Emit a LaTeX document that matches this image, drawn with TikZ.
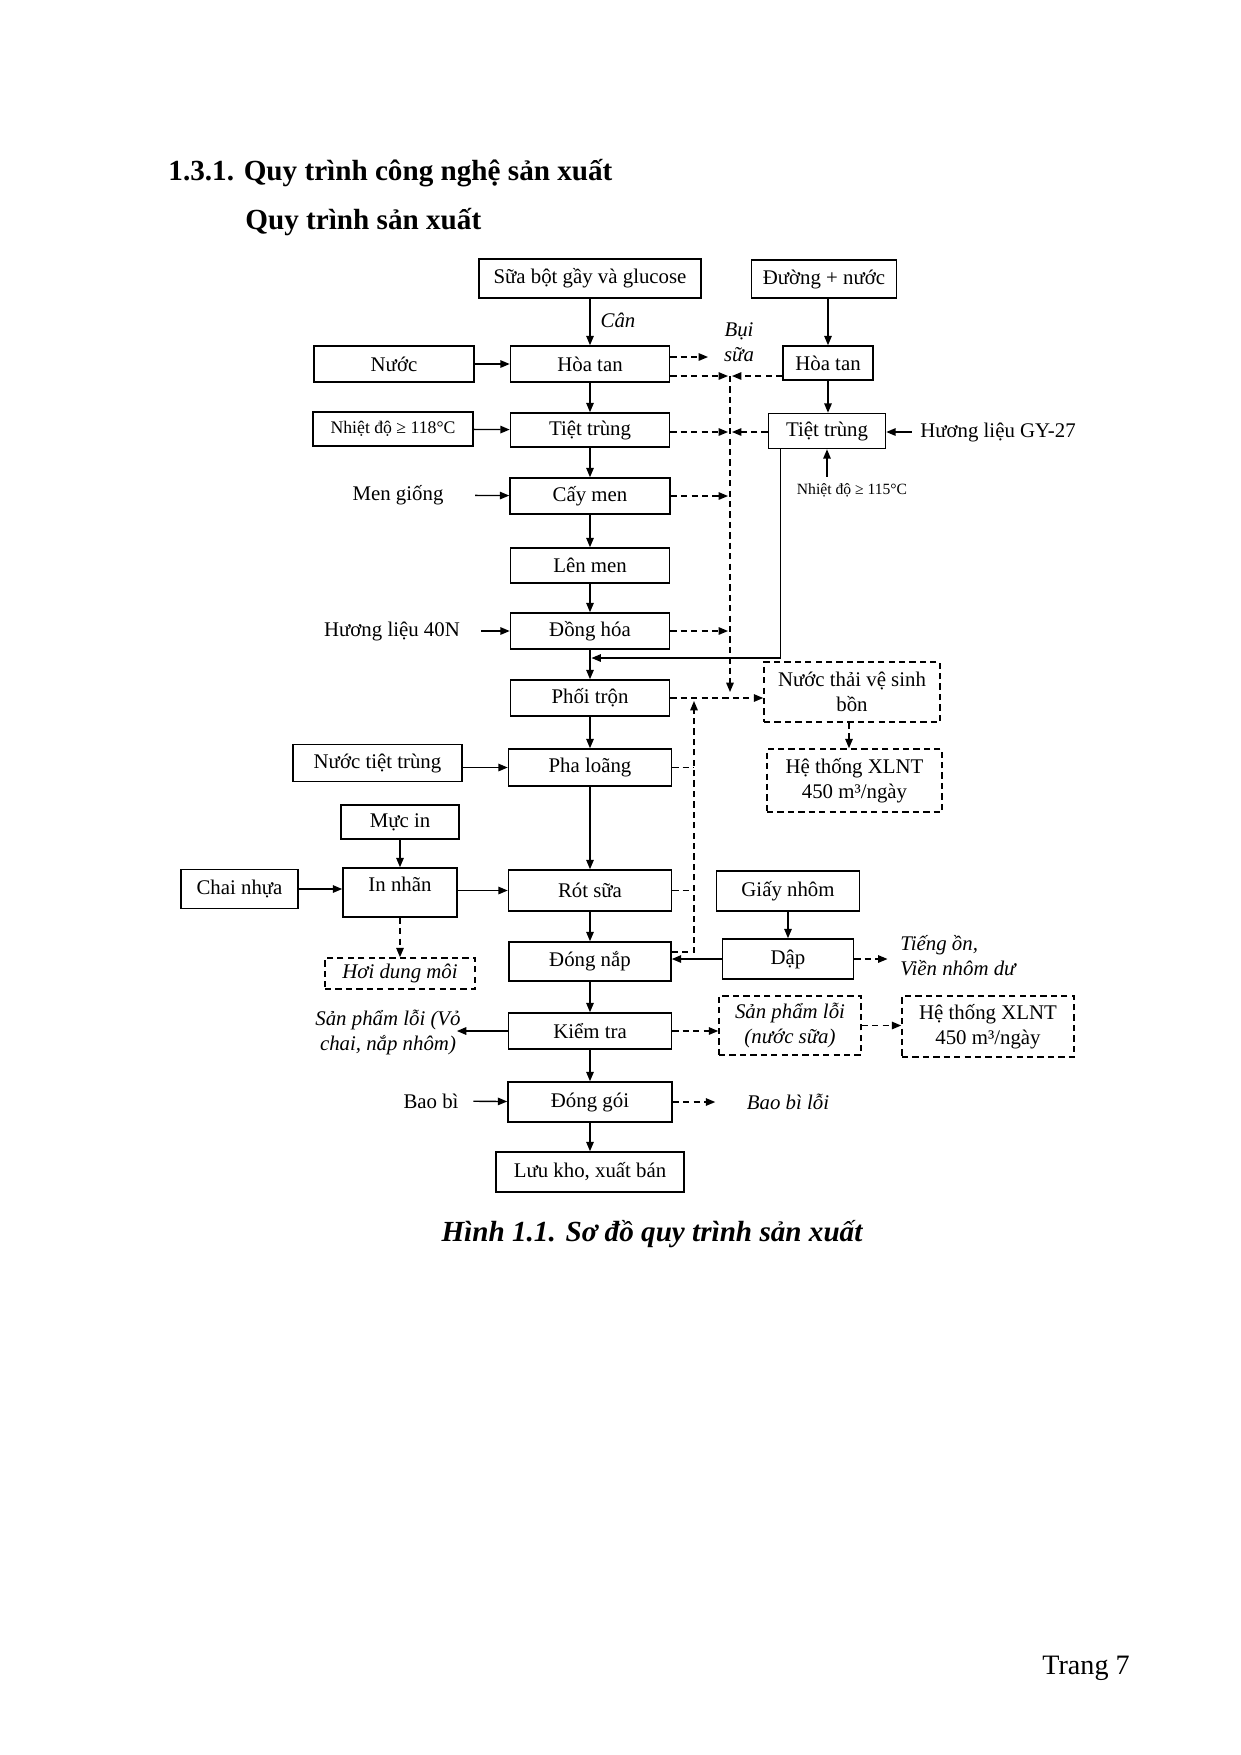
\documentclass[tikz,border=0pt]{standalone}
\usepackage{fontspec}
\setmainfont{Liberation Serif}
\usetikzlibrary{arrows.meta,calc}
\begin{document}
\begin{tikzpicture}[x=0.48pt,y=-0.48pt,
  font=\fontsize{10}{12}\selectfont,
  box/.style={draw,line width=0.75pt,inner sep=0pt,align=center},
  dbox/.style={box,dash pattern=on 3pt off 2pt},
  W/.style={minimum width=#1*0.48pt},
  H/.style={minimum height=#1*0.48pt},
  lbl/.style={inner sep=0pt,align=center},
  arr/.style={line width=0.65pt,-{Triangle[length=4.5pt,width=3.6pt]}},
  darr/.style={arr,dash pattern=on 3pt off 2pt},
  dline/.style={line width=0.65pt,dash pattern=on 3pt off 2pt},
]
\useasboundingbox (0,0) rectangle (1241,1755);
\fill[white] (0,0) rectangle (1241,1755);

% headings
\node[anchor=west,inner sep=0pt,font=\fontsize{14}{16}\selectfont\bfseries] (h1) at (168,173) {1.3.1. Quy trình công nghệ sản xuất};
\node[anchor=west,inner sep=0pt,font=\fontsize{14}{16}\selectfont\bfseries] (h2) at (245,222) {Quy trình sản xuất};

% nodes
\node[box,W=222,H=39] (sua) at (590,278.5) {Sữa bột gầy và glucose};
\node[box,W=145,H=38] (duong) at (824,279) {Đường + nước};
\node[lbl,font=\itshape] (can) at (618,320) {Cân};
\node[box,W=160,H=36] (nuoc) at (394,364) {Nước};
\node[box,W=159,H=36] (hoatan) at (590,364) {Hòa tan};
\node[lbl,font=\itshape] (bui) at (739,342) {Bụi\\sữa};
\node[box,W=90,H=34] (hoatan2) at (828,363) {Hòa tan};
\node[box,W=160,H=34,font=\fontsize{8.5}{10}\selectfont] (nd1) at (393,429) {Nhiệt độ ≥ 118°C};
\node[box,W=159,H=34] (tt) at (590,430) {Tiệt trùng};
\node[box,W=117,H=35] (tt2) at (827,431) {Tiệt trùng};
\node[lbl] (gy) at (998,432) {Hương liệu GY-27};
\node[lbl,font=\fontsize{7.5}{9}\selectfont] (nd2) at (852,490) {Nhiệt độ ≥ 115°C};
\node[lbl] (mg) at (398,495) {Men giống};
\node[box,W=160,H=36] (cm) at (590,496) {Cấy men};
\node[box,W=159,H=35] (lm) at (590,565.5) {Lên men};
\node[lbl] (hl40) at (392,631) {Hương liệu 40N};
\node[box,W=159,H=36] (dh) at (590,631) {Đồng hóa};
\node[box,W=159,H=36] (pt) at (590,698) {Phối trộn};
\node[dbox,W=176,H=60] (nt) at (852,692) {Nước thải vệ sinh\\bồn};
\node[box,W=169,H=37] (ntt) at (377.5,763) {Nước tiệt trùng};
\node[box,W=163,H=37] (pl) at (590,767.5) {Pha loãng};
\node[dbox,W=175,H=63] (x1) at (854.5,780.5) {Hệ thống XLNT\\450 m³/ngày};
\node[box,W=118,H=34] (mi) at (400,822) {Mực in};
\node[box,W=117,H=39] (cn) at (239.5,889) {Chai nhựa};
\node[box,W=114,H=49] (in) at (400,892.5) {};
\node[lbl] (intext) at (400,884) {In nhãn};
\node[box,W=163,H=41] (rs) at (590,890.5) {Rót sữa};
\node[box,W=143,H=40] (gn) at (788,891) {Giấy nhôm};
\node[dbox,W=150,H=31,font=\itshape] (hdm) at (400,973.5) {Hơi dung môi};
\node[box,W=162,H=39] (dn) at (590,961.5) {Đóng nắp};
\node[box,W=131,H=40] (dap) at (788,959) {Dập};
\node[lbl,align=left,font=\itshape,anchor=west] (on) at (900,955.5) {Tiếng ồn,\\Viền nhôm dư};
\node[box,W=163,H=36] (kt) at (590,1031) {Kiểm tra};
\node[lbl,font=\itshape] (spl) at (388,1032) {Sản phẩm lỗi (Vỏ\\chai, nắp nhôm)};
\node[dbox,W=142,H=59,font=\itshape] (spl2) at (790,1025.5) {Sản phẩm lỗi\\(nước sữa)};
\node[dbox,W=172,H=61] (x2) at (988,1026.5) {Hệ thống XLNT\\450 m³/ngày};
\node[lbl] (bb) at (431,1101) {Bao bì};
\node[box,W=164,H=40] (dg) at (590,1102) {Đóng gói};
\node[lbl,font=\itshape] (bbl) at (788,1102) {Bao bì lỗi};
\node[box,W=188,H=40] (lk) at (590,1172) {Lưu kho, xuất bán};
\node[inner sep=0pt,font=\fontsize{14}{16}\selectfont\bfseries\itshape] (cap) at (652,1234) {Hình 1.1. Sơ đồ quy trình sản xuất};
\node[inner sep=0pt,anchor=base west,font=\fontsize{13.5}{16}\selectfont] (tr) at (1042,1674) {Trang 7};

% helper coordinates
\coordinate (buiin) at (708,357);
\coordinate (v1top) at (730,376);
\coordinate (v1b) at (730,432);
\coordinate (v1bot) at (730,692);
\coordinate (v2top) at (694,701);
\coordinate (v2bot) at (694,952);
\coordinate (j1) at (591.5,658);

% solid connectors
\draw[arr] (sua) -- (hoatan);
\draw[arr] (duong.south -| hoatan2.north) -- (hoatan2.north);
\draw[arr] (nuoc) -- (hoatan);
\draw[arr] (hoatan) -- (tt);
\draw[arr] (hoatan2.south) -- (hoatan2.south |- tt2.north);
\draw[arr] (nd1) -- (tt);
\draw[arr] (tt) -- (cm);
\draw[arr,shorten <=15pt] (mg) -- (cm);
\draw[arr] (cm) -- (lm);
\draw[arr] (lm) -- (dh);
\draw[arr,shorten <=10pt] (hl40) -- (dh);
\draw[arr] (dh) -- (pt);
\draw[arr,shorten <=4pt] (gy) -- (gy -| tt2.east);
\draw[arr,shorten <=3pt] (tt2.south |- nd2.north) -- (tt2.south);
\draw[arr] ($(tt2.south west)+(13,0)$) |- (j1);
\draw[arr] (pt) -- (pl);
\draw[arr] (ntt.east |- pl.west) -- (pl.west);
\draw[arr] (pl) -- (rs);
\draw[arr] (rs) -- (dn);
\draw[arr] (dn) -- (kt);
\draw[arr] (kt) -- (dg);
\draw[arr] (dg) -- (lk);
\draw[arr] (mi) -- (in);
\draw[arr] (cn.east) -- (cn.east -| in.west);
\draw[arr] (in.east |- rs.west) -- (rs.west);
\draw[arr] (gn.south) -- (gn.south |- dap.north);
\draw[arr] (dap.west) -- (dap.west -| dn.east);
\draw[arr,shorten >=-2pt] (kt.west) -- (kt.west -| spl.east);
\draw[arr,shorten <=7pt] (bb) -- (dg);

% dashed connectors
\draw[darr] (hoatan.east |- buiin) -- (buiin);
\draw[darr] (hoatan.east |- v1top) -- ($(v1top)+(-2,0)$);
\draw[darr] (hoatan2.west |- v1top) -- ($(v1top)+(2,0)$);
\draw[darr] (tt.east |- v1b) -- ($(v1b)+(-2,0)$);
\draw[darr] (tt2.west |- v1b) -- ($(v1b)+(2,0)$);
\draw[darr] (cm.east) -- ($(cm.east -| v1top)+(-2,0)$);
\draw[darr] (dh.east) -- ($(dh.east -| v1top)+(-2,0)$);
\draw[darr] (v1top) -- (v1bot);
\draw[darr] (pt.east) -- (pt.east -| nt.west);
\draw[dline] (pl.east) -- (pl.east -| v2top);
\draw[dline] (rs.east) -- (rs.east -| v2top);
\draw[darr] (dn.east |- v2bot) -- (v2bot) -- (v2top);
\draw[darr] (nt.south -| 849,0) -- (x1.north -| 849,0);
\draw[darr] (in) -- (hdm);
\draw[darr,shorten >=6pt] (dap.east) -- (dap.east -| on.west);
\draw[darr] (kt.east) -- (kt.east -| spl2.west);
\draw[darr] (spl2.east) -- (spl2.east -| x2.west);
\draw[darr,shorten >=15pt] (dg.east) -- (dg.east -| bbl.west);
\end{tikzpicture}
\end{document}
